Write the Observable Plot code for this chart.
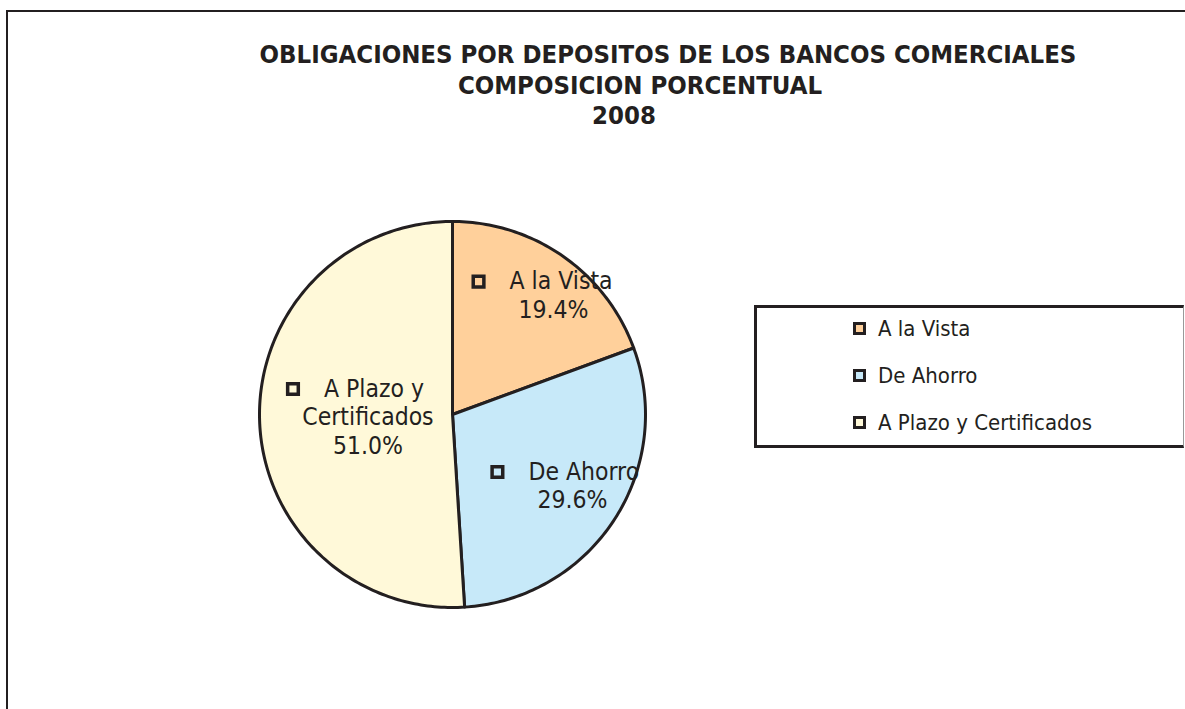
<!DOCTYPE html>
<html>
<head>
<meta charset="utf-8">
<script src="https://cdn.jsdelivr.net/npm/d3@7"></script>
<script src="https://cdn.jsdelivr.net/npm/@observablehq/plot@0.6"></script>
<style>
  html, body { margin: 0; padding: 0; background: #fff; }
  body { width: 1185px; height: 709px; overflow: hidden; position: relative;
         font-family: "DejaVu Sans Condensed", "DejaVu Sans", sans-serif; color: #231f20; }
  #frame { position: absolute; left: 6px; top: 10px; right: -10px; bottom: -10px;
           border-left: 2.6px solid #231f20; border-top: 2.6px solid #231f20; }
  #chart { position: absolute; left: 0; top: 0; }
  .title { position: absolute; font-weight: bold; font-size: 25.5px; line-height: 30px;
           white-space: nowrap; transform: translateX(-50%); }
  #legend { position: absolute; left: 754px; top: 305px; width: 426px; height: 137px;
            border: 3.5px solid #231f20; border-right: 1px solid #999; background: #fff; }
  .item { position: absolute; left: 96px; font-size: 22px; line-height: 26px; white-space: nowrap; }
  .sw { display: inline-block; width: 7px; height: 7px; border: 3.5px solid #231f20;
        vertical-align: middle; margin-right: 12px; position: relative; top: -2px; }
</style>
</head>
<body>
<div id="frame"></div>
<div id="chart"></div>
<div id="titles"></div>
<div id="legend"></div>
<script>
// ---- data ----
const titleLines = ["OBLIGACIONES POR DEPOSITOS DE LOS BANCOS COMERCIALES", "COMPOSICION PORCENTUAL", "2008"];
const categories = ["A la Vista", "De Ahorro", "A Plazo y Certificados"];
const labelNames = ["A la Vista", "De Ahorro", "A Plazo y\nCertificados"];
const shares = [19.4, 29.6, 51.0];
const colors = ["#FFD09B", "#C7E9F9", "#FFF9D9"];

// ---- layout ----
const W = 1185, H = 709, CX = 452, CY = 414, R = 193;
const PX = 1 / R;                 // data units per pixel
const LINE = 28.5 * PX;           // label line spacing
const labelRadius = [0.775, 0.68, 0.49];
const labelTurn = [0.045, 0, 0];  // small angular nudge (radians)

// ---- slices ----
const total = d3.sum(shares);
let acc = 0;
const slices = categories.map((cat, i) => {
  const a0 = acc / total * 2 * Math.PI; acc += shares[i];
  const a1 = acc / total * 2 * Math.PI;
  return {cat, i, a0, a1, mid: (a0 + a1) / 2};
});
const wedgePts = slices.flatMap(s => {
  const n = Math.max(2, Math.ceil((s.a1 - s.a0) / (Math.PI / 180)));
  const pts = [{cat: s.cat, x: 0, y: 0}];
  for (let k = 0; k <= n; k++) {
    const a = s.a0 + (s.a1 - s.a0) * k / n;
    pts.push({cat: s.cat, x: Math.sin(a), y: Math.cos(a)});
  }
  pts.push({cat: s.cat, x: 0, y: 0});
  return pts;
});

// ---- labels ----
const firstLines = [], otherLines = [], markers = [];
slices.forEach(s => {
  const lr = labelRadius[s.i];
  const a = s.mid + labelTurn[s.i];
  const bx = lr * Math.sin(a), by = lr * Math.cos(a);
  const lines = [...labelNames[s.i].split("\n"), shares[s.i].toFixed(1) + "%"];
  const n = lines.length;
  lines.forEach((t, j) => {
    const y = by - (j - (n - 1) / 2) * LINE;
    if (j === 0) {
      firstLines.push({x: bx - 34 * PX, y, t});
      markers.push({x: bx - 65 * PX, y});
    } else {
      otherLines.push({x: bx + 10 * PX, y, t});
    }
  });
});

const chart = Plot.plot({
  width: W, height: H, margin: 0,
  x: {domain: [-CX / R, (W - CX) / R], axis: null},
  y: {domain: [-(H - CY) / R, CY / R], axis: null},
  color: {domain: categories, range: colors},
  style: {background: "transparent", fontFamily: '"DejaVu Sans Condensed", "DejaVu Sans", sans-serif', color: "#231f20"},
  marks: [
    Plot.line(wedgePts, {x: "x", y: "y", z: "cat", fill: "cat", stroke: "#231f20", strokeWidth: 3, strokeLinejoin: "round"}),
    Plot.dot(markers, {x: "x", y: "y", symbol: "square", r: 6, stroke: "#231f20", strokeWidth: 3.5, fill: "none"}),
    Plot.text(firstLines, {x: "x", y: "y", text: "t", textAnchor: "start", fontSize: 24.5, fill: "#231f20"}),
    Plot.text(otherLines, {x: "x", y: "y", text: "t", textAnchor: "middle", fontSize: 24.5, fill: "#231f20"})
  ]
});
document.getElementById("chart").appendChild(chart);

// ---- titles ----
const titleCenters = [668, 640, 624];
const titles = document.getElementById("titles");
titleLines.forEach((t, i) => {
  const d = document.createElement("div");
  d.className = "title";
  d.textContent = t;
  d.style.left = titleCenters[i] + "px";
  d.style.top = (39 + i * 30.5) + "px";
  titles.appendChild(d);
});

// ---- legend ----
const legend = document.getElementById("legend");
categories.forEach((c, i) => {
  const it = document.createElement("div");
  it.className = "item";
  it.style.top = (8 + i * 47) + "px";
  const sw = document.createElement("span");
  sw.className = "sw";
  sw.style.background = colors[i];
  it.appendChild(sw);
  it.appendChild(document.createTextNode(c));
  legend.appendChild(it);
});
</script>
</body>
</html>
